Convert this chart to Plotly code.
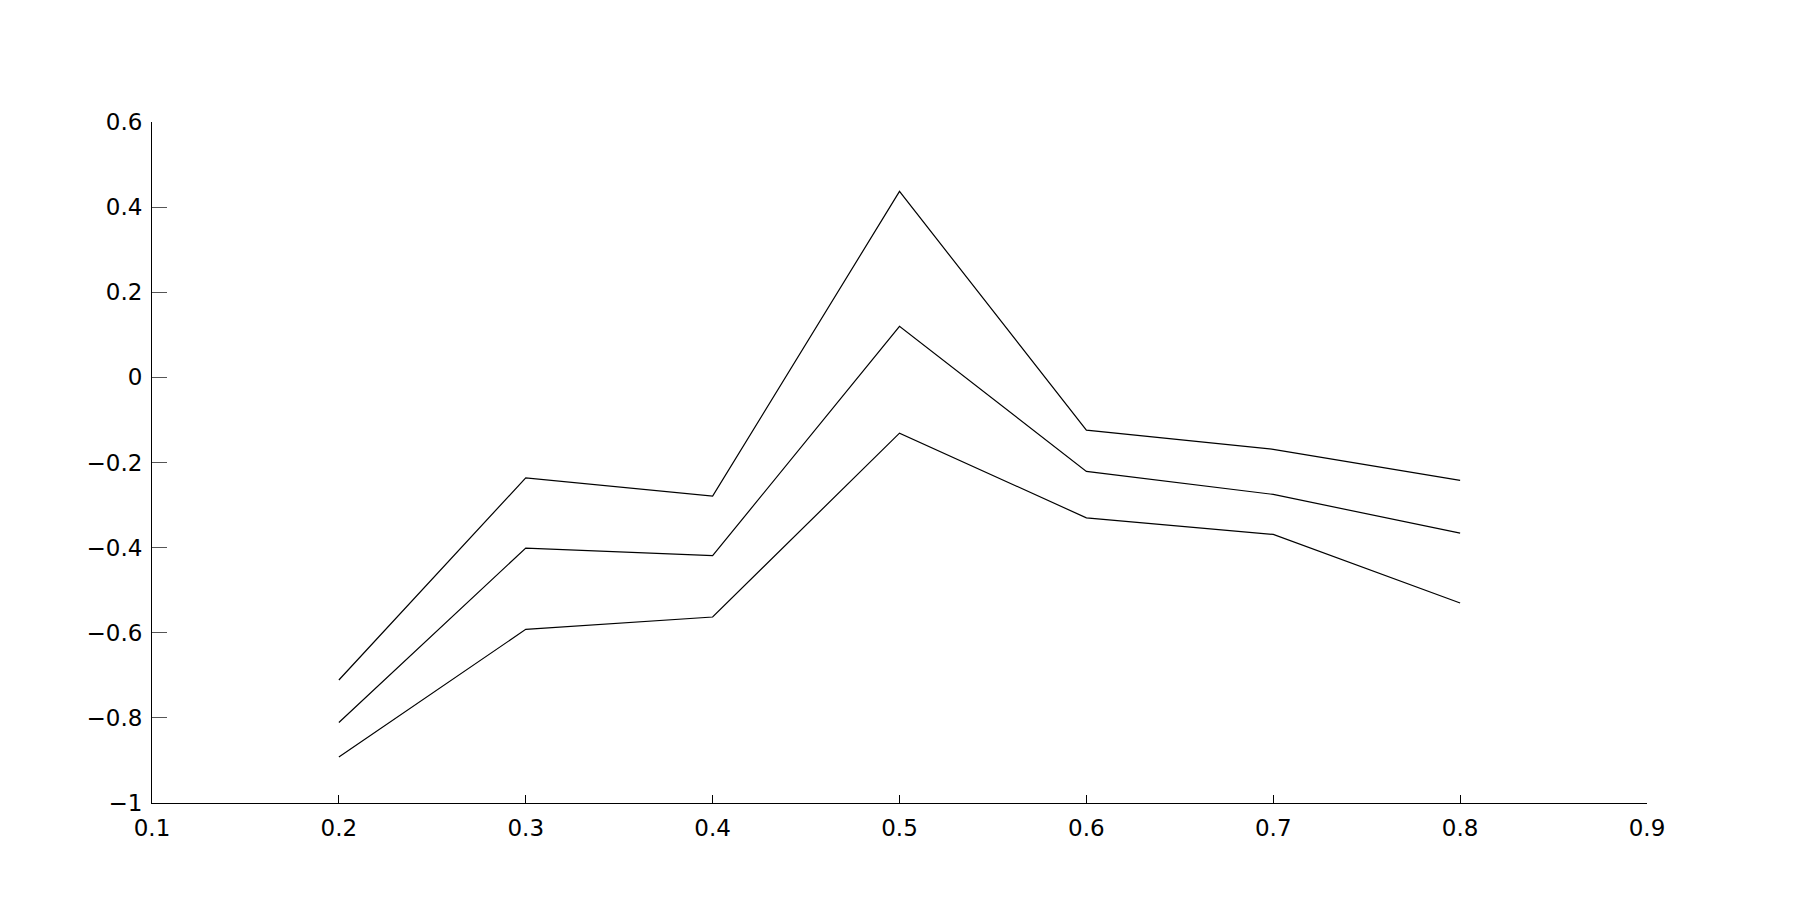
import plotly.graph_objects as go

# x positions and the three curves
x_vals = [0.2, 0.3, 0.4, 0.5, 0.6, 0.7, 0.8]
upper = [-0.711, -0.236, -0.279, 0.437, -0.124, -0.169, -0.242]
middle = [-0.811, -0.401, -0.419, 0.120, -0.221, -0.275, -0.366]
lower = [-0.892, -0.592, -0.563, -0.131, -0.330, -0.369, -0.530]

x_ticks = [0.1, 0.2, 0.3, 0.4, 0.5, 0.6, 0.7, 0.8, 0.9]
y_ticks = [-1, -0.8, -0.6, -0.4, -0.2, 0, 0.2, 0.4, 0.6]
y_labels = ["\u22121", "\u22120.8", "\u22120.6", "\u22120.4", "\u22120.2",
            "0", "0.2", "0.4", "0.6"]

fig = go.Figure()
for ys in (upper, middle, lower):
    fig.add_trace(go.Scatter(
        x=x_vals, y=ys, mode="lines",
        line=dict(color="black", width=1.2),
        showlegend=False, hoverinfo="skip"
    ))

axis_font = dict(family="DejaVu Sans", size=23, color="black")

# page body adds an 8px margin, so the figure is a bit smaller than the window
fig.update_layout(
    width=1790, height=892,
    paper_bgcolor="white", plot_bgcolor="white",
    margin=dict(l=144, r=151, t=114, b=97),
    font=axis_font,
    xaxis=dict(
        range=[0.1, 0.9], tickvals=x_ticks,
        ticktext=[f"{v:.1f}" for v in x_ticks],
        showgrid=False, zeroline=False,
        showline=True, linecolor="black", linewidth=1,
        ticks="inside", ticklen=8, tickcolor="black", tickwidth=1,
        tickfont=axis_font, ticklabelstandoff=4,
    ),
    yaxis=dict(
        range=[-1, 0.6], tickvals=y_ticks, ticktext=y_labels,
        showgrid=False, zeroline=False,
        showline=True, linecolor="black", linewidth=1,
        ticks="inside", ticklen=15, tickcolor="#555555", tickwidth=1,
        tickfont=axis_font, ticklabelstandoff=4,
    ),
)

fig.write_html("out.html")
